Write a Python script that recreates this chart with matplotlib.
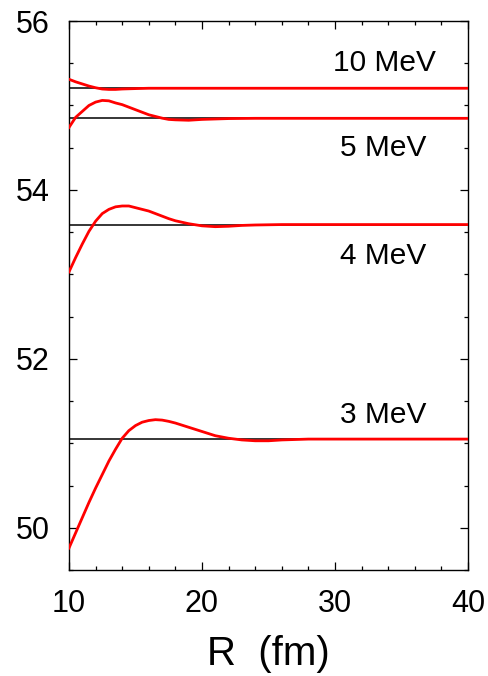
import matplotlib
matplotlib.use("Agg")
import matplotlib.pyplot as plt
from matplotlib.ticker import MultipleLocator

plt.rcParams['font.family'] = ['Liberation Sans', 'DejaVu Sans']

# ---- data ----
energies = ['3 MeV', '4 MeV', '5 MeV', '10 MeV']
asymptotes = [51.05, 53.59, 54.848, 55.204]

r_3 = [10, 10.5, 11, 11.5, 12, 12.5, 13, 13.5, 14, 14.5, 15, 15.5, 16, 16.5, 17,
       17.5, 18, 19, 20, 21, 22, 23, 24, 25, 26, 28, 30, 40]
v_3 = [49.76, 49.94, 50.12, 50.30, 50.47, 50.63, 50.79, 50.93, 51.06, 51.15, 51.21,
       51.25, 51.27, 51.28, 51.275, 51.26, 51.24, 51.19, 51.14, 51.09, 51.06, 51.04,
       51.03, 51.03, 51.04, 51.05, 51.05, 51.05]

r_4 = [10, 10.5, 11, 11.5, 12, 12.5, 13, 13.5, 14, 14.5, 15, 15.5, 16, 16.5, 17,
       17.5, 18, 19, 20, 21, 22, 23, 24, 26, 28, 40]
v_4 = [53.03, 53.20, 53.36, 53.51, 53.63, 53.72, 53.77, 53.80, 53.81, 53.81, 53.79,
       53.77, 53.75, 53.72, 53.69, 53.66, 53.635, 53.60, 53.575, 53.565, 53.57,
       53.58, 53.585, 53.59, 53.59, 53.59]

r_5 = [10, 10.5, 11, 11.5, 12, 12.5, 13, 13.5, 14, 14.5, 15, 15.5, 16, 16.5, 17,
       17.5, 18, 19, 20, 21, 22, 24, 40]
v_5 = [54.74, 54.86, 54.93, 55.00, 55.04, 55.06, 55.055, 55.03, 55.01, 54.98, 54.95,
       54.92, 54.89, 54.87, 54.85, 54.835, 54.83, 54.825, 54.835, 54.84, 54.845,
       54.848, 54.848]

r_10 = [10, 10.5, 11, 11.5, 12, 12.5, 13, 13.5, 14, 15, 16, 40]
v_10 = [55.31, 55.28, 55.255, 55.23, 55.21, 55.195, 55.19, 55.19, 55.195, 55.2,
        55.204, 55.204]

label_x = [33.6, 33.6, 33.6, 33.7]
label_y = [51.33, 53.22, 54.50, 55.50]

fig = plt.figure(figsize=(4.89, 6.76), dpi=100)
ax = fig.add_axes([0.1411, 0.1568, 0.8159, 0.8121])

# asymptotic values (black) under the red curves
for a in asymptotes:
    ax.axhline(a, color='black', linewidth=1.1, zorder=2)

for r, v in [(r_3, v_3), (r_4, v_4), (r_5, v_5), (r_10, v_10)]:
    ax.plot(r, v, color='#ff0000', linewidth=2.0, solid_joinstyle='round', zorder=3)

for name, lx, ly in zip(energies, label_x, label_y):
    ax.text(lx, ly, name, fontsize=21.5, ha='center', va='center')

ax.set_xlim(10, 40)
ax.set_ylim(49.5, 56)
ax.xaxis.set_major_locator(MultipleLocator(10))
ax.xaxis.set_minor_locator(MultipleLocator(2))
ax.yaxis.set_major_locator(MultipleLocator(2))
ax.yaxis.set_minor_locator(MultipleLocator(0.5))
ax.tick_params(which='both', direction='in', top=True, right=True, width=0.9,
               labelsize=22)
ax.tick_params(which='major', length=6)
ax.tick_params(which='minor', length=3)
ax.tick_params(axis='x', pad=14)
ax.tick_params(axis='y', pad=14)
for sp in ax.spines.values():
    sp.set_linewidth(1.0)

ax.set_xlabel('R  (fm)', fontsize=29, labelpad=11)

plt.savefig('out.png', dpi=100)
